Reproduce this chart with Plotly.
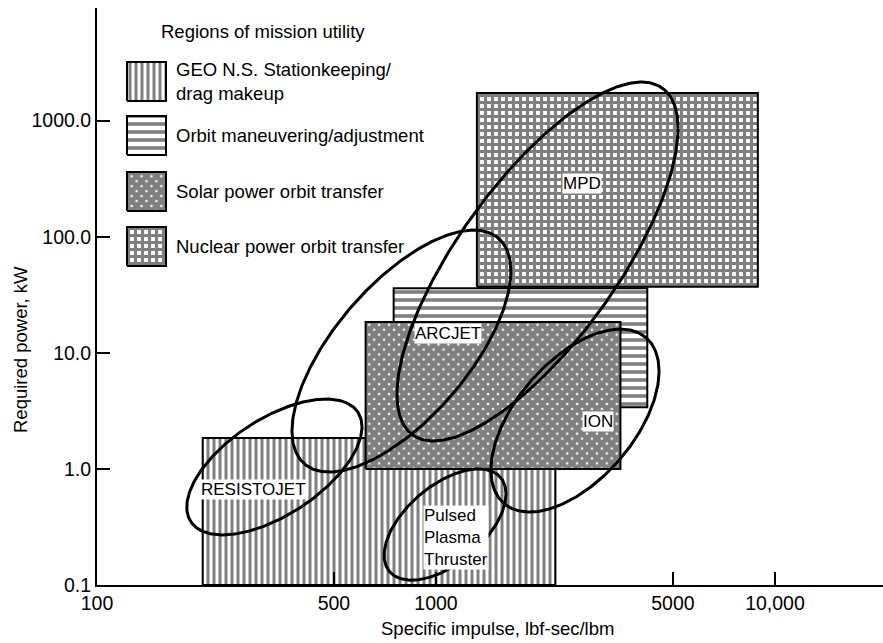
import numpy as np
import plotly.graph_objects as go

# ---------------- data ----------------
# Regions of mission utility (rectangles): specific impulse [lbf-sec/lbm] and power [kW]
REGION_NAMES = ["GEO N.S. Stationkeeping/<br>drag makeup",
                "Orbit maneuvering/adjustment",
                "Solar power orbit transfer",
                "Nuclear power orbit transfer"]
REGION_ISP_MIN = [205, 750, 620, 1320]
REGION_ISP_MAX = [2250, 4200, 3500, 8900]
REGION_KW_MIN = [0.1, 3.4, 1.0, 37]
REGION_KW_MAX = [1.85, 36, 18.4, 1730]

# Thruster operating envelopes (tilted ellipses in log-log space)
THRUSTERS = ["RESISTOJET", "ARCJET", "MPD", "ION", "Pulsed<br>Plasma<br>Thruster"]
THRUSTER_ISP_MIN = [184, 376, 767, 1452, 703]
THRUSTER_ISP_MAX = [605, 1663, 5176, 4550, 1609]
THRUSTER_KW_MIN = [0.27, 0.94, 1.74, 0.425, 0.110]
THRUSTER_KW_MAX = [4.0, 114, 2148, 16.0, 1.0]
THRUSTER_TILT = [0.59, 0.66, 0.74, 0.54, 0.55]   # correlation of log Isp vs log kW
LABEL_ISP = [290, 1084, 2698, 3006, 915]
LABEL_KW = [0.66, 14.8, 290, 2.54, 0.259]

X_TICKS = [100, 500, 1000, 5000, 10000]
X_TICKTEXT = ["100", "500", "1000", "5000", "10,000"]
Y_TICKS = [0.1, 1, 10, 100, 1000]
Y_TICKTEXT = ["0.1", "1.0", "10.0", "100.0", "1000.0"]

# ---------------- layout constants ----------------
W, H = 883, 643
ML, MR, MT, MB = 97, 0, 8, 58
PW, PH = W - ML - MR, H - MT - MB
X_RANGE = [2.0, 2.0 + PW / 339.0]
Y_RANGE = [-1.0, -1.0 + PH / 116.1]
FONT = "Liberation Sans, Arial, sans-serif"
FS = 18
TFS = 19.5

PATTERNS = [dict(shape="|", size=6, solidity=0.5),
            dict(shape="-", size=8, solidity=0.45),
            dict(shape="x", size=7, solidity=0.9),
            dict(shape="+", size=7, solidity=0.7)]


def pxx(x):
    return (x - ML) / PW


def pxy(y):
    return (H - MB - y) / PH


fig = go.Figure()

# rectangles (draw order: GEO, orbit, nuclear, solar)
for i in [0, 1, 3, 2]:
    x0, x1 = REGION_ISP_MIN[i], REGION_ISP_MAX[i]
    y0, y1 = REGION_KW_MIN[i], REGION_KW_MAX[i]
    fig.add_trace(go.Scatter(
        x=[x0, x1, x1, x0, x0], y=[y0, y0, y1, y1, y0],
        mode="lines", fill="toself", fillcolor="white",
        line=dict(color="black", width=2),
        fillpattern=dict(fgcolor="black", bgcolor="white", **PATTERNS[i]),
        hoverinfo="skip", showlegend=False))

# ellipses
t = np.linspace(0, 2 * np.pi, 361)
for i in range(len(THRUSTERS)):
    lx0, lx1 = np.log10(THRUSTER_ISP_MIN[i]), np.log10(THRUSTER_ISP_MAX[i])
    ly0, ly1 = np.log10(THRUSTER_KW_MIN[i]), np.log10(THRUSTER_KW_MAX[i])
    cx, cy = (lx0 + lx1) / 2, (ly0 + ly1) / 2
    wx, hy = (lx1 - lx0) / 2, (ly1 - ly0) / 2
    r = THRUSTER_TILT[i]
    lx = cx + wx * np.cos(t)
    ly = cy + hy * (r * np.cos(t) + np.sqrt(1 - r * r) * np.sin(t))
    fig.add_trace(go.Scatter(x=10 ** lx, y=10 ** ly, mode="lines",
                             line=dict(color="black", width=3),
                             hoverinfo="skip", showlegend=False))

# thruster labels
for i, name in enumerate(THRUSTERS):
    left = i == 4
    fig.add_annotation(x=np.log10(LABEL_ISP[i]), y=np.log10(LABEL_KW[i]),
                       xref="x", yref="y", text=name, showarrow=False,
                       xanchor="left" if left else "center", yanchor="middle",
                       align="left", bgcolor="white", borderpad=0,
                       font=dict(family=FONT, size=FS - 1, color="black"))

# legend (swatches on an overlay axis in plot-area fractions)
SW_X = (127, 166)
SW_TOPS = [62, 116, 172, 227]
SW_H = 39
for i in range(4):
    xa, xb = pxx(SW_X[0]), pxx(SW_X[1])
    ya, yb = pxy(SW_TOPS[i] + SW_H), pxy(SW_TOPS[i])
    fig.add_trace(go.Scatter(
        x=[xa, xb, xb, xa, xa], y=[ya, ya, yb, yb, ya],
        xaxis="x2", yaxis="y2", mode="lines", fill="toself", fillcolor="white",
        line=dict(color="black", width=2),
        fillpattern=dict(fgcolor="black", bgcolor="white", **PATTERNS[i]),
        hoverinfo="skip", showlegend=False))
    fig.add_annotation(x=pxx(174), y=pxy(SW_TOPS[i] + SW_H / 2), xref="paper", yref="paper",
                       text=REGION_NAMES[i], showarrow=False, xanchor="left", yanchor="middle",
                       align="left", font=dict(family=FONT, size=FS + 0.5, color="black"))

fig.add_annotation(x=pxx(159), y=pxy(32), xref="paper", yref="paper",
                   text="Regions of mission utility", showarrow=False,
                   xanchor="left", yanchor="middle",
                   font=dict(family=FONT, size=FS + 0.5, color="black"))

# axis titles
fig.add_annotation(x=pxx(20), y=pxy(350), xref="paper", yref="paper",
                   text="Required power, kW", textangle=-90, showarrow=False,
                   xanchor="center", yanchor="middle",
                   font=dict(family=FONT, size=FS + 0.5, color="black"))
fig.add_annotation(x=pxx(497), y=pxy(628), xref="paper", yref="paper",
                   text="Specific impulse, lbf-sec/lbm", showarrow=False,
                   xanchor="center", yanchor="middle",
                   font=dict(family=FONT, size=FS + 0.5, color="black"))

fig.update_layout(
    width=W, height=H, margin=dict(l=ML, r=MR, t=MT, b=MB),
    paper_bgcolor="white", plot_bgcolor="white", showlegend=False,
    xaxis=dict(type="log", range=X_RANGE, tickvals=X_TICKS, ticktext=X_TICKTEXT,
               showgrid=False, zeroline=False, showline=True, linecolor="black",
               linewidth=2, ticks="inside", ticklen=13, tickwidth=2, tickcolor="black",
               tickfont=dict(family=FONT, size=TFS, color="black")),
    yaxis=dict(type="log", range=Y_RANGE, tickvals=Y_TICKS, ticktext=Y_TICKTEXT,
               showgrid=False, zeroline=False, showline=True, linecolor="black",
               linewidth=2, ticks="inside", ticklen=13, tickwidth=2, tickcolor="black",
               tickfont=dict(family=FONT, size=TFS, color="black")),
    xaxis2=dict(overlaying="x", range=[0, 1], visible=False, domain=[0, 1]),
    yaxis2=dict(overlaying="y", range=[0, 1], visible=False, domain=[0, 1]),
)

fig.write_html("out.html")
